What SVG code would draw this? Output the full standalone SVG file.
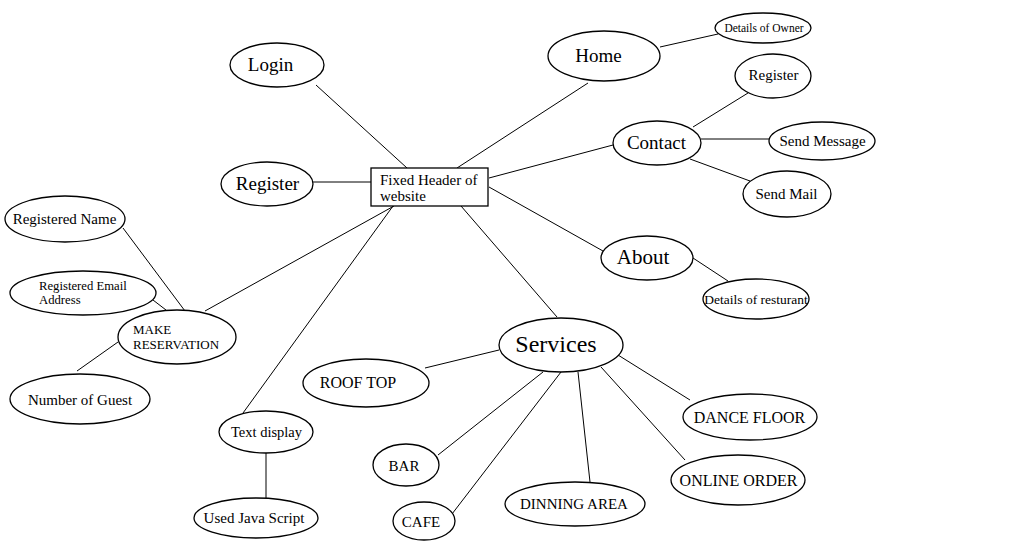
<svg xmlns="http://www.w3.org/2000/svg" width="1018" height="551" viewBox="0 0 1018 551">
<style>
.n ellipse,.n rect{fill:#fff;stroke:#000;stroke-width:1.3}
text{font-family:"Liberation Serif","Times New Roman",serif;fill:#000}
.c line{stroke:#000;stroke-width:1}
</style>
<rect width="1018" height="551" fill="#fff"/>
<g class="c" id="connectors">
<line x1="316" y1="85" x2="407" y2="168"/>
<line x1="588" y1="83" x2="457" y2="168"/>
<line x1="660" y1="47" x2="718" y2="34"/>
<line x1="613" y1="145" x2="489" y2="178"/>
<line x1="693" y1="127" x2="748" y2="93"/>
<line x1="701" y1="139" x2="769" y2="139"/>
<line x1="690" y1="159" x2="750" y2="181"/>
<line x1="313" y1="182" x2="371" y2="182"/>
<line x1="394" y1="206" x2="205" y2="311"/>
<line x1="123" y1="228" x2="185" y2="311"/>
<line x1="153" y1="300" x2="166" y2="310"/>
<line x1="77" y1="371" x2="118" y2="342"/>
<line x1="393" y1="206" x2="243" y2="413"/>
<line x1="266" y1="453" x2="266" y2="498"/>
<line x1="489" y1="187" x2="603" y2="251"/>
<line x1="693" y1="258" x2="728" y2="281"/>
<line x1="461" y1="206" x2="557" y2="317"/>
<line x1="499" y1="350" x2="425" y2="368"/>
<line x1="543" y1="372" x2="438" y2="455"/>
<line x1="561" y1="372" x2="452" y2="514"/>
<line x1="578" y1="372" x2="590" y2="482"/>
<line x1="601" y1="367" x2="685" y2="460"/>
<line x1="618" y1="355" x2="690" y2="400"/>
</g>
<g class="n" id="header"><rect x="371" y="168" width="117" height="38"/><text x="380" y="185" font-size="15">Fixed Header of</text><text x="380" y="201" font-size="15">website</text></g>
<g class="n" id="login"><ellipse cx="277" cy="65" rx="47" ry="22"/><text x="270.5" y="71" font-size="19" text-anchor="middle">Login</text></g>
<g class="n" id="home"><ellipse cx="604" cy="56" rx="56" ry="25"/><text x="598.5" y="62" font-size="19" text-anchor="middle">Home</text></g>
<g class="n" id="owner"><ellipse cx="763" cy="28" rx="48" ry="15"/><text x="764" y="32" font-size="11.5" text-anchor="middle">Details of Owner</text></g>
<g class="n" id="register2"><ellipse cx="773" cy="76" rx="38" ry="22"/><text x="773.5" y="80" font-size="15" text-anchor="middle">Register</text></g>
<g class="n" id="contact"><ellipse cx="657" cy="143" rx="44" ry="22"/><text x="656.5" y="149" font-size="19" text-anchor="middle">Contact</text></g>
<g class="n" id="sendmessage"><ellipse cx="822" cy="141" rx="53" ry="19"/><text x="822.5" y="146" font-size="15" text-anchor="middle">Send Message</text></g>
<g class="n" id="sendmail"><ellipse cx="787" cy="194" rx="44" ry="23"/><text x="786.5" y="199" font-size="15" text-anchor="middle">Send Mail</text></g>
<g class="n" id="register"><ellipse cx="267" cy="184" rx="46" ry="22"/><text x="267.5" y="190" font-size="19" text-anchor="middle">Register</text></g>
<g class="n" id="regname"><ellipse cx="65" cy="219" rx="60" ry="23"/><text x="64.5" y="224" font-size="15" text-anchor="middle">Registered Name</text></g>
<g class="n" id="regemail"><ellipse cx="83" cy="293" rx="73" ry="22"/><text x="39" y="290" font-size="12.7">Registered Email</text><text x="39" y="304" font-size="12.7">Address</text></g>
<g class="n" id="reservation"><ellipse cx="177" cy="337" rx="59" ry="27"/><text x="133" y="334" font-size="13">MAKE</text><text x="133" y="349" font-size="13">RESERVATION</text></g>
<g class="n" id="guest"><ellipse cx="80" cy="399" rx="70" ry="25"/><text x="80" y="405" font-size="15" text-anchor="middle">Number of Guest</text></g>
<g class="n" id="about"><ellipse cx="647" cy="258" rx="46" ry="22"/><text x="643" y="264" font-size="21" text-anchor="middle">About</text></g>
<g class="n" id="resturant"><ellipse cx="756" cy="299" rx="53" ry="20"/><text x="756" y="304" font-size="13.5" text-anchor="middle">Details of resturant</text></g>
<g class="n" id="services"><ellipse cx="561" cy="345" rx="62" ry="27"/><text x="556" y="352" font-size="24" text-anchor="middle">Services</text></g>
<g class="n" id="rooftop"><ellipse cx="366" cy="383" rx="63" ry="24"/><text x="358" y="388" font-size="16" text-anchor="middle">ROOF TOP</text></g>
<g class="n" id="dance"><ellipse cx="750" cy="417" rx="67" ry="23"/><text x="749.5" y="423" font-size="16" text-anchor="middle">DANCE FLOOR</text></g>
<g class="n" id="online"><ellipse cx="738" cy="480" rx="67" ry="25"/><text x="738.5" y="486" font-size="16" text-anchor="middle">ONLINE ORDER</text></g>
<g class="n" id="bar"><ellipse cx="406" cy="465" rx="33" ry="21"/><text x="404" y="471" font-size="15" text-anchor="middle">BAR</text></g>
<g class="n" id="dinning"><ellipse cx="575" cy="504" rx="70" ry="22"/><text x="574" y="509" font-size="15" text-anchor="middle">DINNING AREA</text></g>
<g class="n" id="cafe"><ellipse cx="424" cy="521" rx="31" ry="19"/><text x="421" y="527" font-size="15" text-anchor="middle">CAFE</text></g>
<g class="n" id="textdisplay"><ellipse cx="266" cy="432" rx="47" ry="21"/><text x="266.5" y="437" font-size="14.5" text-anchor="middle">Text display</text></g>
<g class="n" id="java"><ellipse cx="256" cy="518" rx="62" ry="20"/><text x="254" y="523" font-size="15" text-anchor="middle">Used Java Script</text></g>
</svg>
